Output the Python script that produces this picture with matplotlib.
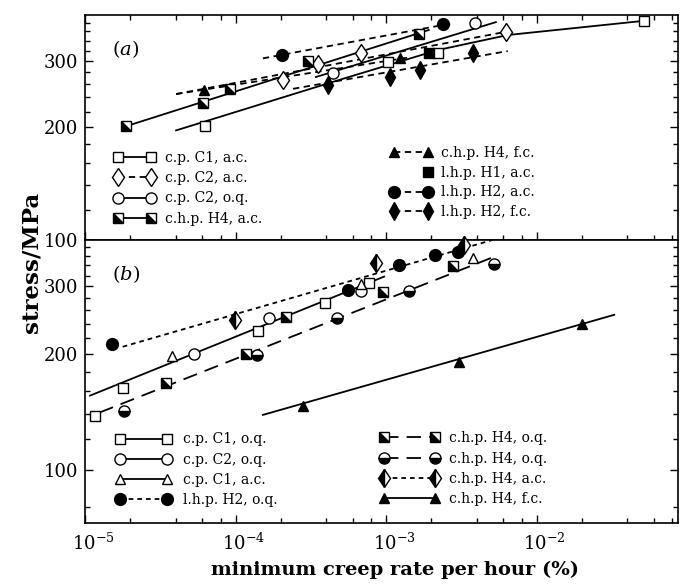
import matplotlib
matplotlib.use('Agg')
import matplotlib.pyplot as plt
from matplotlib.markers import MarkerStyle
from matplotlib.transforms import Affine2D, ScaledTranslation
from matplotlib.legend_handler import HandlerLine2D
from matplotlib.lines import Line2D
from matplotlib.ticker import LogLocator, NullFormatter

plt.rcParams['font.family'] = ['DejaVu Serif']
plt.rcParams['mathtext.fontset'] = 'dejavuserif'

# ── data, panel (a) ──
a_c1ac_x = [6.27e-5, 1.03e-3, 2.21e-3, 5.16e-2]
a_c1ac_y = [201, 298, 315, 384]
a_c1ac_lx = [4.03e-5, 5.01e-4, 2.21e-3, 6.44e-3, 5.16e-2]
a_c1ac_ly = [196, 268, 321, 352, 384]

a_c2ac_x = [2.06e-4, 3.52e-4, 6.8e-4, 6.25e-3]
a_c2ac_y = [267, 294, 315, 359]
a_c2ac_lx = [4.03e-5, 6.25e-3]
a_c2ac_ly = [245, 359]

a_c2oq_x = [4.44e-4, 3.89e-3]
a_c2oq_y = [279, 379]
a_c2oq_lx = [3.42e-4, 5.37e-3]
a_c2oq_ly = [272, 381]

a_h4ac_x = [1.87e-5, 6.07e-5, 9.2e-5, 3.02e-4, 1.65e-3]
a_h4ac_y = [201, 232, 253, 300, 354]
a_h4ac_lx = [1.87e-5, 1.92e-3]
a_h4ac_ly = [201, 363]

a_h4fc_x = [6.18e-5, 1.24e-3]
a_h4fc_y = [251, 305]
a_h4fc_lx = [4.03e-5, 1.44e-3]
a_h4fc_ly = [245, 307]

a_h1ac_x = [1.92e-3]
a_h1ac_y = [315]

a_h2ac_x = [2.03e-4, 2.39e-3]
a_h2ac_y = [311, 377]
a_h2ac_lx = [1.52e-4, 2.82e-3]
a_h2ac_ly = [305, 379]

a_h2fc_x = [4.11e-4, 1.06e-3, 1.68e-3, 3.77e-3]
a_h2fc_y = [259, 272, 284, 315]
a_h2fc_lx = [2.41e-4, 6.44e-3]
a_h2fc_ly = [253, 319]

# ── data, panel (b) ──
b_c1oq_x = [1.16e-5, 1.78e-5, 1.41e-4, 3.92e-4, 7.73e-4]
b_c1oq_y = [138, 163, 230, 272, 307]
b_c1oq_lx = [1.08e-5, 9.71e-4]
b_c1oq_ly = [156, 318]

b_c2oq_x = [5.31e-5, 1.67e-4, 6.8e-4]
b_c2oq_y = [200, 248, 291]

b_c1ac_x = [3.79e-5, 6.8e-4, 3.81e-3]
b_c1ac_y = [198, 305, 355]

b_h2oq_x = [1.52e-5, 5.55e-4, 1.22e-3, 2.12e-3, 2.99e-3]
b_h2oq_y = [212, 294, 341, 361, 369]
b_h2oq_lx = [1.78e-5, 5.1e-3]
b_h2oq_ly = [209, 396]

b_h4oq_sq_x = [3.48e-5, 1.18e-4, 2.16e-4, 9.62e-4, 2.77e-3]
b_h4oq_sq_y = [168, 200, 249, 290, 339]
b_h4oq_lx = [1.25e-5, 5.5e-3]
b_h4oq_ly = [141, 361]

b_h4oq_ci_x = [1.81e-5, 1.39e-4, 4.69e-4, 1.42e-3, 5.18e-3]
b_h4oq_ci_y = [142, 199, 248, 291, 343]

b_h4ac_x = [9.9e-5, 8.55e-4, 3.3e-3]
b_h4ac_y = [245, 344, 384]

b_h4fc_x = [2.81e-4, 3.06e-3, 1.99e-2]
b_h4fc_y = [147, 191, 239]
b_h4fc_lx = [1.52e-4, 3.28e-2]
b_h4fc_ly = [139, 253]

xticks = [1e-5, 1e-4, 1e-3, 1e-2]
xticklabels = [r'$10^{-5}$', r'$10^{-4}$', r'$10^{-3}$', r'$10^{-2}$']
yticks = [100, 200, 300]
yminor = [v for v in range(60, 420, 20) if v not in yticks]

# ── styles ──
HALF_SQ = MarkerStyle('D', fillstyle='bottom', transform=Affine2D().rotate_deg(-45))
HALF_CI = MarkerStyle('o', fillstyle='bottom')
HALF_DI = MarkerStyle('d', fillstyle='left')
SOLID = dict(ls='-')
DASH = dict(dashes=(3.5, 2.5))
SDASH = dict(dashes=(2.6, 2.2))
LDASH = dict(dashes=(8, 4.5))
LW = 1.3


class HandlerLast(HandlerLine2D):
    """marker only at the right end of the handle"""
    def create_artists(self, legend, orig_handle, xdescent, ydescent,
                       width, height, fontsize, trans):
        arts = super().create_artists(legend, orig_handle, xdescent, ydescent,
                                      width, height, fontsize, trans)
        for a in arts:
            a.set_markevery([1])
        return arts


def series(ax, x, y, marker, ms=7.5, mfc='white', mfcalt='white',
           lx=None, ly=None, style=SOLID, line=True):
    ax.plot(x, y, ls='none', marker=marker, ms=ms, mfc=mfc, mfcalt=mfcalt,
            mec='black', mew=1.0, zorder=3, clip_on=False)
    if lx is not None:
        ax.plot(lx, ly, color='black', lw=LW, zorder=2, **style)
    if line:
        return Line2D([], [], color='black', lw=LW, marker=marker, ms=ms,
                      mfc=mfc, mfcalt=mfcalt, mec='black', mew=1.0, **style)
    return Line2D([], [], ls='none', marker=marker, ms=ms,
                  mfc=mfc, mec='black', mew=1.0)


fig = plt.figure(figsize=(6.82, 5.84), dpi=100)
ax_a = fig.add_axes([0.1246, 0.589, 0.8695, 0.3853])
ax_b = fig.add_axes([0.1246, 0.1045, 0.8695, 0.4846])

# ── panel (a) ──
h_c1ac = series(ax_a, a_c1ac_x, a_c1ac_y, 's', ms=7.2, lx=a_c1ac_lx, ly=a_c1ac_ly)
h_c2ac = series(ax_a, a_c2ac_x, a_c2ac_y, 'd', ms=9.5, lx=a_c2ac_lx, ly=a_c2ac_ly, style=DASH)
h_c2oq = series(ax_a, a_c2oq_x, a_c2oq_y, 'o', ms=8, lx=a_c2oq_lx, ly=a_c2oq_ly)
h_h4ac = series(ax_a, a_h4ac_x, a_h4ac_y, HALF_SQ, ms=7.2, mfc='black',
                lx=a_h4ac_lx, ly=a_h4ac_ly)
h_h4fc = series(ax_a, a_h4fc_x, a_h4fc_y, '^', ms=7, mfc='black',
                lx=a_h4fc_lx, ly=a_h4fc_ly, style=DASH)
h_h1ac = series(ax_a, a_h1ac_x, a_h1ac_y, 's', ms=7, mfc='black', line=False)
h_h2ac = series(ax_a, a_h2ac_x, a_h2ac_y, 'o', ms=8.5, mfc='black',
                lx=a_h2ac_lx, ly=a_h2ac_ly, style=DASH)
h_h2fc = series(ax_a, a_h2fc_x, a_h2fc_y, 'd', ms=9, mfc='black',
                lx=a_h2fc_lx, ly=a_h2fc_ly, style=DASH)

# ── panel (b) ──
h_c1oq = series(ax_b, b_c1oq_x, b_c1oq_y, 's', ms=7.2, lx=b_c1oq_lx, ly=b_c1oq_ly)
h_c2oqb = series(ax_b, b_c2oq_x, b_c2oq_y, 'o', ms=8)
h_c1acb = series(ax_b, b_c1ac_x, b_c1ac_y, '^', ms=7.5)
h_h2oq = series(ax_b, b_h2oq_x, b_h2oq_y, 'o', ms=8.5, mfc='black',
                lx=b_h2oq_lx, ly=b_h2oq_ly, style=SDASH)
h_h4oq_sq = series(ax_b, b_h4oq_sq_x, b_h4oq_sq_y, HALF_SQ, ms=7.2, mfc='black',
                   lx=b_h4oq_lx, ly=b_h4oq_ly, style=LDASH)
h_h4oq_ci = series(ax_b, b_h4oq_ci_x, b_h4oq_ci_y, HALF_CI, ms=8, mfc='black',
                   style=LDASH)
h_h4acb = series(ax_b, b_h4ac_x, b_h4ac_y, HALF_DI, ms=9.5, mfc='black', style=SDASH)
h_h4fcb = series(ax_b, b_h4fc_x, b_h4fc_y, '^', ms=7, mfc='black',
                 lx=b_h4fc_lx, ly=b_h4fc_ly)

# ── axes ──
for ax, ylim in ((ax_a, (100, 398)), (ax_b, (72.8, 396))):
    ax.set_xscale('log')
    ax.set_yscale('log')
    ax.set_xticks(xticks, xticklabels)
    ax.xaxis.set_minor_locator(LogLocator(base=10, subs=(2, 4, 6, 8)))
    ax.xaxis.set_minor_formatter(NullFormatter())
    ax.set_yticks(yticks, [str(v) for v in yticks])
    ax.set_yticks(yminor, minor=True)
    ax.yaxis.set_minor_formatter(NullFormatter())
    # limits after the ticks, set_ticks would widen them
    ax.set_xlim(1e-5, 0.087)
    ax.set_ylim(*ylim)
    ax.tick_params(which='both', direction='in', right=True, width=1.0,
                   labelsize=13, pad=5)
    ax.tick_params(which='major', length=6)
    ax.tick_params(which='minor', length=3.5)
    for sp in ax.spines.values():
        sp.set_linewidth(1.2)

ax_a.tick_params(which='both', top=True, labelbottom=False)
ax_b.tick_params(which='both', top=False)
ax_b.tick_params(axis='x', pad=7)

# shift the x labels so that the "10" sits on the tick
off = ScaledTranslation(8 / 100, 0, fig.dpi_scale_trans)
for t in ax_b.xaxis.get_major_ticks():
    t.label1.set_transform(t.label1.get_transform() + off)

ax_a.text(0.045, 0.85, r'$(a)$', transform=ax_a.transAxes, fontsize=14,
          ha='left', va='center')
ax_b.text(0.045, 0.88, r'$(b)$', transform=ax_b.transAxes, fontsize=14,
          ha='left', va='center')

# ── legends ──
leg_kw = dict(frameon=False, fontsize=10, numpoints=2, borderpad=0,
              borderaxespad=0, loc='upper left')

lg1 = ax_a.legend([h_c1ac, h_c2ac, h_c2oq, h_h4ac],
                  ['c.p. C1, a.c.', 'c.p. C2, a.c.', 'c.p. C2, o.q.', 'c.h.p. H4, a.c.'],
                  bbox_to_anchor=(0.0486, 0.396), handlelength=2.97,
                  handletextpad=0.71, labelspacing=0.45, **leg_kw)
ax_a.add_artist(lg1)
ax_a.legend([h_h4fc, h_h1ac, h_h2ac, h_h2fc],
            ['c.h.p. H4, f.c.', 'l.h.p. H1, a.c.', 'l.h.p. H2, a.c.', 'l.h.p. H2, f.c.'],
            bbox_to_anchor=(0.514, 0.419), handlelength=3.05,
            handletextpad=0.63, labelspacing=0.42,
            handler_map={h_h1ac: HandlerLast()}, **leg_kw)

lg3 = ax_b.legend([h_c1oq, h_c2oqb, h_c1acb, h_h2oq],
                  ['c.p. C1, o.q.', 'c.p. C2, o.q.', 'c.p. C1, a.c.', 'l.h.p. H2, o.q.'],
                  bbox_to_anchor=(0.052, 0.32), handlelength=3.98,
                  handletextpad=0.86, labelspacing=0.45, **leg_kw)
ax_b.add_artist(lg3)
ax_b.legend([h_h4oq_sq, h_h4oq_ci, h_h4acb, h_h4fcb],
            ['c.h.p. H4, o.q.', 'c.h.p. H4, o.q.', 'c.h.p. H4, a.c.', 'c.h.p. H4, f.c.'],
            bbox_to_anchor=(0.497, 0.324), handlelength=4.27,
            handletextpad=0.7, labelspacing=0.45, **leg_kw)

fig.text(0.046, 1 - 262 / 584, 'stress/MPa', rotation=90, ha='center',
         va='center', fontsize=16.5, fontweight='bold')
fig.text(395 / 682, 1 - 570 / 584, 'minimum creep rate per hour (%)',
         ha='center', va='center', fontsize=14, fontweight='bold')

fig.savefig('out.png', dpi=100)
